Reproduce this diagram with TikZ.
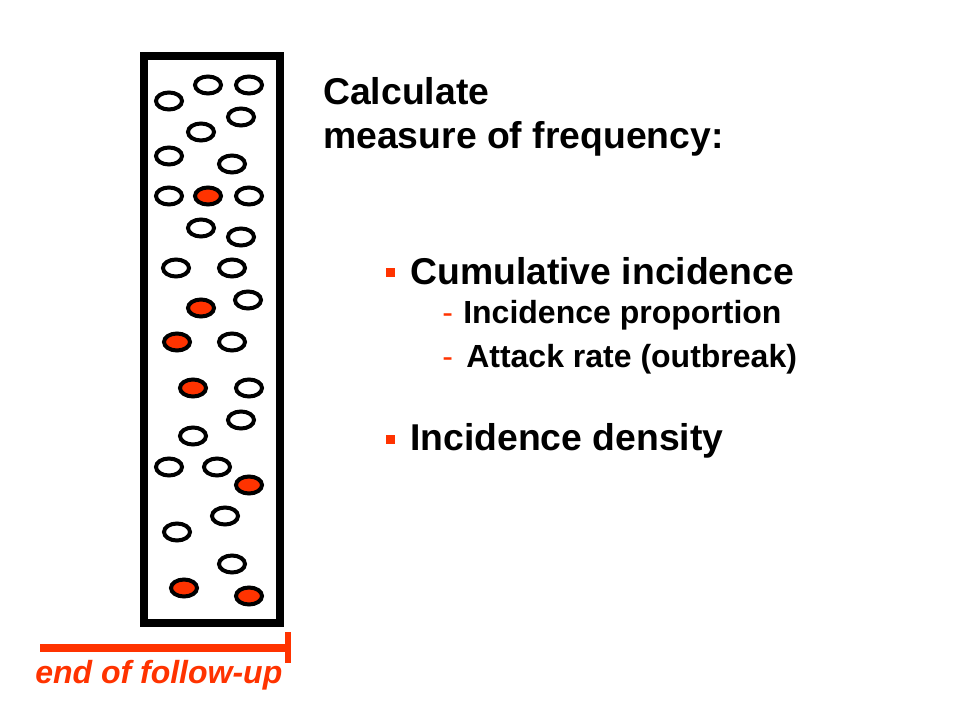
\documentclass[tikz,border=0pt]{standalone}
\usepackage{fontspec}
\setmainfont{Liberation Sans}
\usepackage{tikz}
\usetikzlibrary{positioning}
\definecolor{fupred}{HTML}{FF3300}
\tikzset{
  subject/.style={draw=black, line width=3pt, fill=white},
  case/.style={subject, fill=fupred},
  headtxt/.style={anchor=base west, inner sep=0pt, font=\fontsize{28}{34}\selectfont\bfseries},
  subtxt/.style={anchor=base west, inner sep=0pt, font=\fontsize{24}{29}\selectfont\bfseries},
  dashtxt/.style={anchor=base west, inner sep=0pt, text=fupred, font=\fontsize{24}{29}\selectfont},
}

\begin{document}
\begin{tikzpicture}[x=0.75pt, y=-0.75pt]
\useasboundingbox (0,0) rectangle (960,720);

% ---------------- Cohort box ----------------
\draw[line width=6pt] (144,56) rectangle (280,623);

% Subjects in cohort (white = healthy, red = case)
\foreach \x/\y/\s in {
  169/101/subject, 208/85/subject, 249/85/subject, 241/117/subject,
  201/132/subject, 169/156/subject, 232/164/subject,
  169/196/subject, 208/196/case, 249/196/subject,
  201/228/subject, 241/237/subject, 176/268/subject, 232/268/subject,
  248/300/subject, 201/308/case, 177/342/case, 232/342/subject,
  193/388/case, 249/388/subject, 241/420/subject, 193/436/subject,
  169/467/subject, 217/467/subject, 249/485/case,
  225/516/subject, 177/532/subject, 232/564/subject,
  184/588/case, 249/596/case}{
  \draw[\s] (\x,\y) ellipse (13 and 8.5);
}

% ---------------- End of follow-up ----------------
\draw[fupred, line width=5.5pt] (40,648) -- (288,648);
\draw[fupred, line width=4.5pt] (288,632) -- (288,663);
\node[subtxt, font=\fontsize{24}{29}\selectfont\bfseries\itshape, text=fupred]
  (fup) at (35,683) {end of follow-up};

% ---------------- Labels ----------------
\node[headtxt] (calc1) at (323,105) {Calculate};
\node[headtxt] (calc2) at (323,149) {measure of frequency:};

\fill[fupred] (386,268) rectangle (395,277);
\node[headtxt] (ci) at (410,285) {Cumulative incidence};
\node[dashtxt] (dash1) at (442,323) {-};
\node[subtxt] (ip) at (463,323) {Incidence proportion};
\node[dashtxt] (dash2) at (442,367) {-};
\node[subtxt] (ar) at (466,367) {Attack rate (outbreak)};

\fill[fupred] (386,435) rectangle (395,444);
\node[headtxt] (id) at (410,450) {Incidence density};

\end{tikzpicture}
\end{document}
